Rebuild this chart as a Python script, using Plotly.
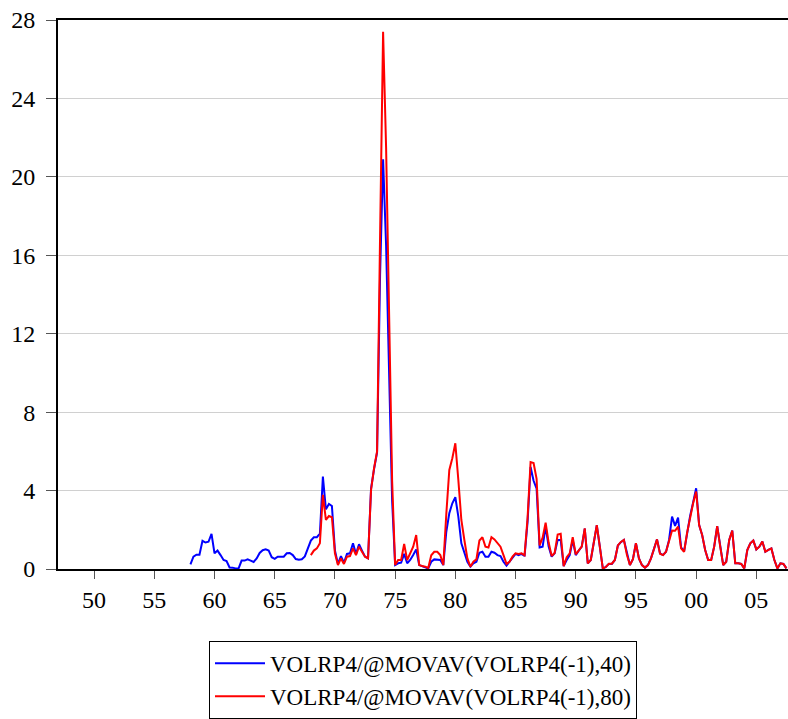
import plotly.graph_objects as go

# Quarterly ratio series: volatility relative to its lagged moving average
start_40 = 1958.0   # first quarter of the 40-quarter window series
start_80 = 1968.0   # first quarter of the 80-quarter window series

movav_40 = [
    0.24, 0.63, 0.73, 0.73,   # 1958
    1.44, 1.35, 1.39, 1.79,   # 1959
    0.80, 0.94, 0.71, 0.46,   # 1960
    0.41, 0.08, 0.07, 0.03,   # 1961
    0.03, 0.43, 0.43, 0.49,   # 1962
    0.43, 0.36, 0.54, 0.82,   # 1963
    0.96, 1.00, 0.94, 0.60,   # 1964
    0.52, 0.63, 0.63, 0.63,   # 1965
    0.80, 0.82, 0.71, 0.51,   # 1966
    0.47, 0.50, 0.64, 1.01,   # 1967
    1.45, 1.62, 1.62, 1.80,   # 1968
    4.71, 3.04, 3.32, 3.21,   # 1969
    0.95, 0.26, 0.66, 0.32,   # 1970
    0.77, 0.80, 1.31, 0.77,   # 1971
    1.26, 0.94, 0.63, 0.54,   # 1972
    4.10, 5.10, 5.95, 15.0,   # 1973
    20.9, 16.5, 10.0, 3.50,   # 1974
    0.20, 0.29, 0.32, 0.77,   # 1975
    0.29, 0.46, 0.71, 1.00,   # 1976
    0.20, 0.12, 0.08, 0.03,   # 1977
    0.37, 0.49, 0.49, 0.46,   # 1978
    0.20, 1.90, 2.85, 3.35,   # 1979
    3.66, 2.67, 1.31, 0.80,   # 1980
    0.37, 0.12, 0.29, 0.37,   # 1981
    0.83, 0.88, 0.63, 0.63,   # 1982
    0.88, 0.83, 0.71, 0.66,   # 1983
    0.37, 0.17, 0.37, 0.60,   # 1984
    0.77, 0.71, 0.77, 0.66,   # 1985
    2.40, 5.20, 4.50, 4.10,   # 1986
    1.10, 1.14, 2.16, 1.14,   # 1987
    0.63, 0.80, 1.48, 1.48,   # 1988
    0.15, 0.46, 0.71, 1.48,   # 1989
    0.71, 0.94, 1.14, 2.06,   # 1990
    0.29, 0.46, 1.25, 2.23,   # 1991
    1.14, 0.03, 0.10, 0.26,   # 1992
    0.26, 0.46, 1.20, 1.37,   # 1993
    1.48, 0.75, 0.20, 0.50,   # 1994
    1.31, 0.54, 0.20, 0.07,   # 1995
    0.20, 0.54, 1.05, 1.51,   # 1996
    0.80, 0.71, 0.88, 1.48,   # 1997
    2.67, 2.20, 2.62, 1.10,   # 1998
    0.90, 1.90, 2.70, 3.40,   # 1999
    4.12, 2.24, 1.73, 0.97,   # 2000
    0.46, 0.46, 1.14, 2.19,   # 2001
    1.14, 0.20, 0.37, 1.48,   # 2002
    1.96, 0.29, 0.29, 0.26,   # 2003
    0.03, 0.97, 1.31, 1.45,   # 2004
    1.00, 1.14, 1.40, 0.88,   # 2005
    0.97, 1.05, 0.46, 0.03,   # 2006
    0.29, 0.26, 0.03,         # 2007
]

movav_80 = [
    0.71, 0.94, 1.05, 1.31,   # 1968
    3.78, 2.50, 2.70, 2.64,   # 1969
    0.80, 0.20, 0.54, 0.26,   # 1970
    0.63, 0.66, 1.05, 0.71,   # 1971
    1.14, 0.88, 0.63, 0.54,   # 1972
    4.03, 5.14, 6.00, 17.0,   # 1973
    27.4, 21.5, 13.5, 4.50,   # 1974
    0.20, 0.46, 0.46, 1.28,   # 1975
    0.46, 0.80, 1.14, 1.73,   # 1976
    0.20, 0.15, 0.12, 0.05,   # 1977
    0.70, 0.88, 0.88, 0.71,   # 1978
    0.20, 2.80, 5.05, 5.65,   # 1979
    6.41, 4.54, 2.50, 1.48,   # 1980
    0.54, 0.12, 0.37, 0.49,   # 1981
    1.45, 1.62, 1.14, 1.10,   # 1982
    1.62, 1.51, 1.31, 1.14,   # 1983
    0.71, 0.26, 0.37, 0.63,   # 1984
    0.80, 0.77, 0.80, 0.70,   # 1985
    2.60, 5.45, 5.40, 4.60,   # 1986
    1.20, 1.60, 2.36, 1.35,   # 1987
    0.66, 0.82, 1.76, 1.80,   # 1988
    0.15, 0.60, 0.80, 1.62,   # 1989
    0.75, 0.94, 1.14, 2.07,   # 1990
    0.29, 0.46, 1.28, 2.24,   # 1991
    1.14, 0.03, 0.10, 0.27,   # 1992
    0.27, 0.46, 1.20, 1.38,   # 1993
    1.48, 0.72, 0.20, 0.50,   # 1994
    1.31, 0.54, 0.20, 0.07,   # 1995
    0.20, 0.54, 1.02, 1.51,   # 1996
    0.78, 0.71, 0.88, 1.45,   # 1997
    1.96, 1.95, 2.16, 1.05,   # 1998
    0.88, 1.85, 2.65, 3.35,   # 1999
    3.95, 2.24, 1.73, 0.97,   # 2000
    0.46, 0.46, 1.14, 2.19,   # 2001
    1.14, 0.20, 0.37, 1.48,   # 2002
    1.96, 0.29, 0.29, 0.26,   # 2003
    0.03, 0.97, 1.31, 1.45,   # 2004
    1.00, 1.14, 1.40, 0.88,   # 2005
    0.97, 1.05, 0.46, 0.03,   # 2006
    0.29, 0.26, 0.03,         # 2007
]

label_40 = "VOLRP4/@MOVAV(VOLRP4(-1),40)"
label_80 = "VOLRP4/@MOVAV(VOLRP4(-1),80)"

year_ticks = list(range(1950, 2010, 5))
year_labels = ["50", "55", "60", "65", "70", "75", "80", "85", "90", "95", "00", "05"]
y_ticks = [0, 4, 8, 12, 16, 20, 24, 28]


def quarters(start, n):
    return [start + 0.25 * i for i in range(n)]


FONT = "Liberation Serif"

fig = go.Figure()
fig.add_trace(go.Scatter(
    x=quarters(start_40, len(movav_40)), y=movav_40, mode="lines",
    name=label_40, line=dict(color="#0000FF", width=2),
))
fig.add_trace(go.Scatter(
    x=quarters(start_80, len(movav_80)), y=movav_80, mode="lines",
    name=label_80, line=dict(color="#FF0000", width=2),
))

fig.update_layout(
    width=788, height=719,
    margin=dict(l=58, r=0, t=20, b=150),
    paper_bgcolor="white", plot_bgcolor="white",
    font=dict(family=FONT, size=20, color="black"),
    showlegend=True,
    legend=dict(
        x=0.5, xanchor="center", y=-0.131, yanchor="top",
        bordercolor="black", borderwidth=1, bgcolor="white",
        font=dict(family=FONT, size=23, color="black"),
        itemwidth=50, tracegroupgap=0,
    ),
    xaxis=dict(
        range=[1947.0, 2007.63], tickmode="array",
        tickvals=year_ticks, ticktext=year_labels,
        showgrid=False, zeroline=False,
        showline=True, linecolor="black", linewidth=2, mirror=True,
        ticks="outside", ticklen=8, tickcolor="#555555", tickwidth=1,
        tickfont=dict(family=FONT, size=24),
    ),
    yaxis=dict(
        range=[0, 28], tickmode="array", tickvals=y_ticks,
        showgrid=True, gridcolor="#D0D0D0", gridwidth=1,
        zeroline=False,
        showline=True, linecolor="black", linewidth=2,
        ticks="outside", ticklen=10, tickcolor="#555555", tickwidth=1,
        ticklabelstandoff=6,
        tickfont=dict(family=FONT, size=24),
    ),
)

fig.write_html("out.html")
